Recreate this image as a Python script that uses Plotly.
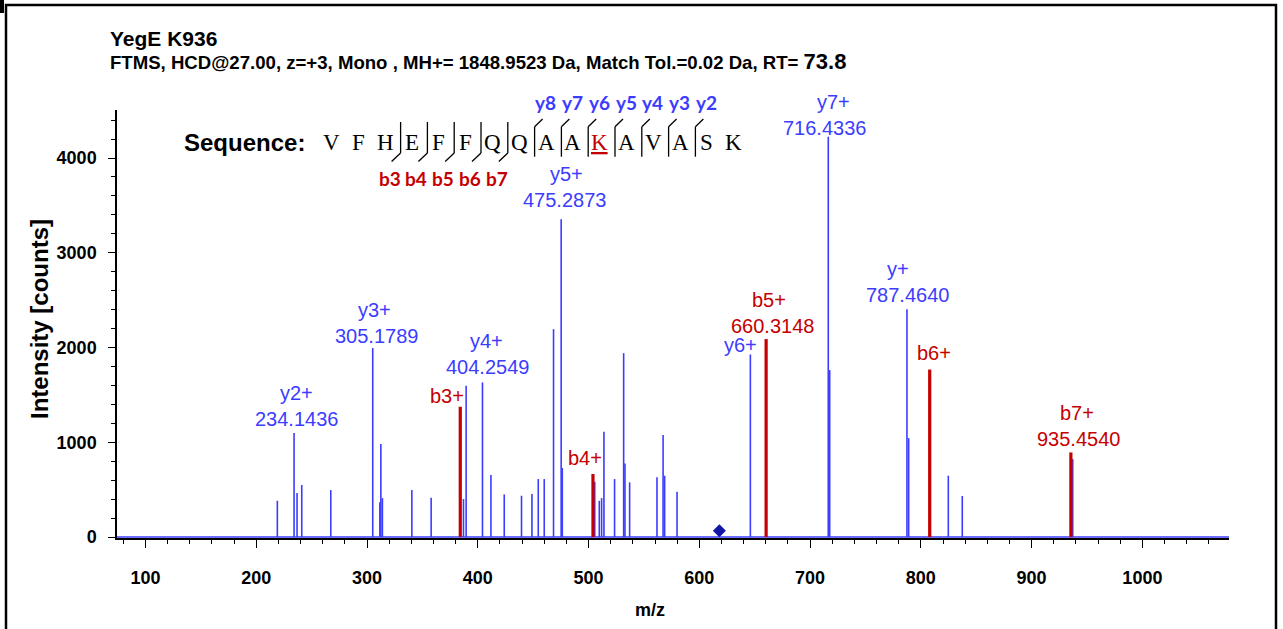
import plotly.graph_objects as go

# ---- spectrum peaks (m/z, intensity in counts) ----
other_mz = [219.05, 236.85, 241.1, 267.3, 311.6, 312.5, 313.9, 340.5, 357.9,
            387.1, 389.5, 411.9, 423.9, 439.5, 448.9, 454.6, 460.0, 468.4,
            476.3, 505.6, 509.7, 511.8, 513.9, 523.5, 531.7, 532.9, 537.1,
            561.8, 567.3, 568.7, 579.9, 717.7, 789.0, 824.8, 837.4, 937.1]
other_int = [383, 464, 549, 496, 366, 981, 411, 496, 415,
             401, 1596, 654, 450, 436, 454, 612, 612, 2194,
             728, 583, 382, 411, 1111, 612, 1941, 777, 577,
             630, 1076, 647, 478, 1762, 1044, 647, 433, 823]

y_ion_names = ['y2+', 'y3+', 'y4+', 'y5+', 'y6+', 'y7+', 'y+']
y_ion_vals = ['234.1436', '305.1789', '404.2549', '475.2873', '', '716.4336', '787.4640']
y_ion_mz = [234.1436, 305.1789, 404.2549, 475.2873, 646.1, 716.4336, 787.4640]
y_ion_int = [1097, 1994, 1632, 3354, 1927, 4224, 2405]

b_ion_names = ['b3+', 'b4+', 'b5+', 'b6+', 'b7+']
b_ion_vals = ['', '', '660.3148', '', '935.4540']
b_ion_mz = [384.2, 504.0, 660.3148, 808.0, 935.4540]
b_ion_int = [1375, 665, 2089, 1768, 893]

precursor_mz = [618.1]
precursor_int = [66]

sequence = 'VFHEFFQQAAKAVASK'
modified_site = 10          # the K (K936)
b_breaks = [3, 4, 5, 6, 7]
y_breaks = [8, 7, 6, 5, 4, 3, 2]

x_range = [74.3, 1078.2]
y_range = [-10, 4507]

BLUE = '#3c3cff'
RED = '#c40000'
FONT = 'Arial, Liberation Sans, sans-serif'

# label nudges in px: (name dx, value dx, yshift)
label_nudge = {
    'y2+': (2, 2, 1), 'y3+': (2, 4, -1), 'y4+': (4, 5, 2), 'y5+': (5, 3, 6),
    'y6+': (-10, 0, -4), 'y7+': (5, -4, -4), 'y+': (-9, 1, 1),
    'b3+': (-13, 0, -2), 'b4+': (-8, 0, 3), 'b5+': (3, 6, 0),
    'b6+': (4, 0, 4), 'b7+': (6, 8, 0),
}

W, H = 1283, 629
L, R, T, B = 117, 54, 110, 91
PW, PH = W - L - R, H - T - B


def px(x):
    return (x - L) / PW


def py(y):
    return (H - B - y) / PH


def stems(xs, ys):
    sx, sy = [], []
    for x, y in zip(xs, ys):
        sx += [x, x, None]
        sy += [0, y, None]
    return sx, sy


def note(x, y, text, font, xanchor='center', yanchor='middle', **kw):
    return dict(x=px(x), y=py(y), xref='paper', yref='paper', showarrow=False,
                xanchor=xanchor, yanchor=yanchor, text=text, font=font, **kw)


fig = go.Figure()

ox, oy = stems(other_mz + y_ion_mz, other_int + y_ion_int)
fig.add_trace(go.Scatter(x=ox, y=oy, mode='lines', line=dict(color=BLUE, width=1.6),
                         hoverinfo='skip', showlegend=False))
fig.add_trace(go.Scatter(x=x_range, y=[0, 0], mode='lines', line=dict(color=BLUE, width=1.6),
                         hoverinfo='skip', showlegend=False))
bx, by = stems(b_ion_mz, b_ion_int)
fig.add_trace(go.Scatter(x=bx, y=by, mode='lines', line=dict(color=RED, width=3.2),
                         hoverinfo='skip', showlegend=False))
fig.add_trace(go.Scatter(x=precursor_mz, y=precursor_int, mode='markers',
                         marker=dict(symbol='diamond', size=10, color='#1414a8'),
                         cliponaxis=False, showlegend=False))

annotations = []


def peak_label(name, val, x, y, color):
    ndx, vdx, ys = label_nudge[name]
    f = dict(family=FONT, size=20, color=color)
    if val:
        annotations.append(dict(x=x, y=y, xref='x', yref='y', text=val, showarrow=False,
                                xanchor='center', yanchor='bottom', xshift=vdx, yshift=ys, font=f))
        ys += 26
    annotations.append(dict(x=x, y=y, xref='x', yref='y', text=name, showarrow=False,
                            xanchor='center', yanchor='bottom', xshift=ndx, yshift=ys, font=f))


for n, v, x, y in zip(y_ion_names, y_ion_vals, y_ion_mz, y_ion_int):
    peak_label(n, v, x, y, BLUE)
for n, v, x, y in zip(b_ion_names, b_ion_vals, b_ion_mz, b_ion_int):
    peak_label(n, v, x, y, RED)

# titles
annotations.append(note(107.7, 39, '<b>YegE K936</b>',
                        dict(family=FONT, size=21, color='black'), xanchor='left'))
annotations.append(note(107.7, 61,
                        '<b>FTMS, HCD@27.00, z=+3, Mono , MH+= 1848.9523 Da, Match Tol.=0.02 Da, RT= '
                        "<span style='font-size:22px'>73.8</span></b>",
                        dict(family=FONT, size=18.6, color='black'), xanchor='left'))
annotations.append(note(39, 319, '<b>Intensity [counts]</b>',
                        dict(family=FONT, size=24, color='black'), textangle=-90))
annotations.append(note(650, 610, '<b>m/z</b>', dict(family=FONT, size=18, color='black')))

# sequence with fragment markers
SEQ_Y = 142
annotations.append(note(181.7, SEQ_Y, '<b>Sequence:</b>',
                        dict(family=FONT, size=24, color='black'), xanchor='left'))


def res_x(i):
    return 331.7 + 26.8 * i


for i, aa in enumerate(sequence):
    txt, col = aa, 'black'
    if i == modified_site:
        txt, col = '<u>' + aa + '</u>', RED
    annotations.append(note(res_x(i), SEQ_Y, txt,
                            dict(family='Liberation Serif, Times New Roman, serif', size=23, color=col)))

shapes = []
line_style = dict(color='black', width=1.3)
for n in b_breaks:
    bxp = res_x(n - 1) + 15.3
    shapes.append(dict(type='line', xref='paper', yref='paper', x0=px(bxp), x1=px(bxp),
                       y0=py(122), y1=py(153), line=line_style))
    shapes.append(dict(type='line', xref='paper', yref='paper', x0=px(bxp), x1=px(bxp - 9),
                       y0=py(153), y1=py(161.5), line=line_style))
    annotations.append(note(bxp - 11, 178, '<b>b%d</b>' % n,
                            dict(family='Lato, sans-serif', size=19, color=RED)))
for n in y_breaks:
    yxp = res_x(len(sequence) - n - 1) + 15.3
    shapes.append(dict(type='line', xref='paper', yref='paper', x0=px(yxp), x1=px(yxp),
                       y0=py(126.7), y1=py(156.7), line=line_style))
    shapes.append(dict(type='line', xref='paper', yref='paper', x0=px(yxp), x1=px(yxp + 8),
                       y0=py(126.7), y1=py(119), line=line_style))
    annotations.append(note(yxp + 11, 103, '<b>y%d</b>' % n,
                            dict(family='Lato, sans-serif', size=19, color=BLUE)))

# outer frame
shapes.append(dict(type='rect', xref='paper', yref='paper', x0=px(6), x1=px(1276),
                   y0=py(660), y1=py(5), line=dict(color='black', width=2.5)))
shapes.append(dict(type='rect', xref='paper', yref='paper', x0=px(0), x1=px(4),
                   y0=py(13), y1=py(0), line=dict(width=0), fillcolor='black'))

tickfont = dict(family=FONT, size=18, color='black', weight=700)
fig.update_xaxes(range=x_range, tick0=0, dtick=100, ticks='outside', ticklen=8, tickwidth=1.3,
                 tickcolor='black', showline=True, linecolor='black', linewidth=2,
                 showgrid=False, zeroline=False, tickfont=tickfont, ticklabelstandoff=14,
                 minor=dict(dtick=20, ticks='outside', ticklen=4, tickwidth=1.2, tickcolor='black',
                            showgrid=False))
fig.update_yaxes(range=y_range, tick0=0, dtick=1000, ticks='outside', ticklen=7, tickwidth=1.3,
                 tickcolor='black', showline=True, linecolor='black', linewidth=1.5,
                 showgrid=False, zeroline=False, tickfont=tickfont, ticklabelstandoff=8,
                 minor=dict(dtick=200, ticks='outside', ticklen=4, tickwidth=1.2, tickcolor='black',
                            showgrid=False))
fig.update_layout(
    width=W, height=H,
    margin=dict(l=L, r=R, t=T, b=B),
    plot_bgcolor='white', paper_bgcolor='white',
    annotations=annotations, shapes=shapes,
    showlegend=False,
)

fig.write_html('out.html', config={'displayModeBar': False},
               post_script="document.body.style.margin='0';")
